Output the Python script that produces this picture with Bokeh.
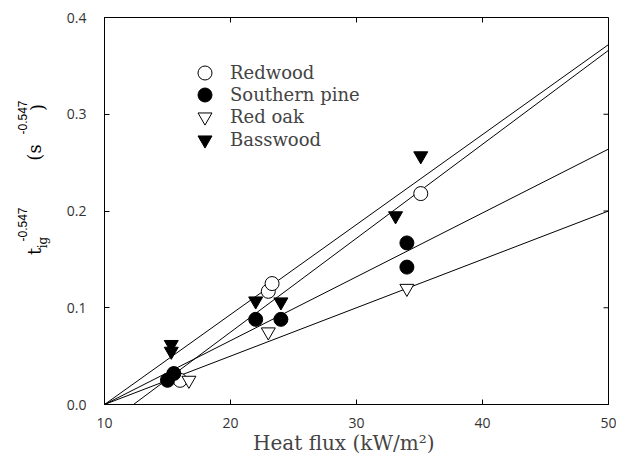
from math import pi
from bokeh.plotting import figure
from bokeh.layouts import row
from bokeh.models import (Range1d, Legend, LegendItem, NumeralTickFormatter, FixedTicker)
from bokeh.core.properties import value
from bokeh.embed import file_html
from bokeh.resources import INLINE

# ---- data ----
redwood_x = [16.0, 23.0, 23.3, 35.1]
redwood_y = [0.025, 0.117, 0.125, 0.218]
pine_x = [15.0, 15.5, 22.0, 24.0, 34.0, 34.0]
pine_y = [0.025, 0.032, 0.088, 0.088, 0.167, 0.142]
oak_x = [16.7, 23.0, 34.0]
oak_y = [0.025, 0.075, 0.120]
bass_x = [15.3, 15.3, 22.0, 24.0, 33.1, 35.1]
bass_y = [0.062, 0.055, 0.107, 0.106, 0.195, 0.257]

# fitted lines: y = slope * (x - x_intercept), drawn from x_intercept to 50
fit_names = ["Basswood", "Redwood", "Southern pine", "Red oak"]
fit_slope = [0.0093, 0.00971, 0.0066, 0.0050]
fit_x0 = [10.0, 12.3, 10.0, 10.0]
x_end = 50.0

x_ticks = [10, 20, 30, 40, 50]
y_ticks = [0.0, 0.1, 0.2, 0.3, 0.4]
legend_labels = ["Redwood", "Southern pine", "Red oak", "Basswood"]

X0, X1, Y0, Y1 = 10, 50, 0.0, 0.4
FW, FH = 504, 387          # frame size in px
LABW = 56                  # width of the strip holding the y-axis title
TOTAL_H = 17 + FH + 52

p = figure(frame_width=FW, frame_height=FH, x_range=Range1d(X0, X1), y_range=Range1d(Y0, Y1),
           output_backend="svg", toolbar_location=None,
           min_border_left=104 - LABW, min_border_right=8, min_border_top=17, min_border_bottom=40)
p.grid.visible = False
p.outline_line_color = "black"
p.outline_line_width = 1

for ax in (p.xaxis[0], p.yaxis[0]):
    ax.major_tick_in = 5
    ax.major_tick_out = 0
    ax.minor_tick_line_color = None
    ax.major_label_text_font = "Open Sans"
    ax.major_label_text_font_size = "14px"
    ax.major_label_text_color = "#333333"
    ax.axis_line_color = "black"
p.xaxis.ticker = FixedTicker(ticks=x_ticks)
p.yaxis.ticker = FixedTicker(ticks=y_ticks)
p.yaxis.formatter = NumeralTickFormatter(format="0.0")
p.xaxis.major_label_standoff = 13
p.yaxis.major_label_standoff = 18
p.xaxis.axis_label = "Heat flux (kW/m\u00b2)" + "\u00a0" * 4
p.xaxis.axis_label_text_font = "DejaVu Serif"
p.xaxis.axis_label_text_font_style = "normal"
p.xaxis.axis_label_text_font_size = "20px"
p.xaxis.axis_label_standoff = 0

# inward ticks on the top and right edges, from the tick arrays
tick_len_y = 5 * (Y1 - Y0) / FH
tick_len_x = 5 * (X1 - X0) / FW
p.segment(x0=x_ticks, y0=[Y1] * len(x_ticks), x1=x_ticks, y1=[Y1 - tick_len_y] * len(x_ticks),
          line_color="black", line_width=1)
p.segment(x0=[X1] * len(y_ticks), y0=y_ticks, x1=[X1 - tick_len_x] * len(y_ticks), y1=y_ticks,
          line_color="black", line_width=1)

# fit lines
for s, x0 in zip(fit_slope, fit_x0):
    p.line([x0, x_end], [0.0, s * (x_end - x0)], line_color="black", line_width=1)

r_red = p.scatter(redwood_x, redwood_y, marker="circle", size=14,
                  fill_color="white", line_color="black", line_width=1)
r_pine = p.scatter(pine_x, pine_y, marker="circle", size=14,
                   fill_color="black", line_color="black")
r_oak = p.scatter(oak_x, oak_y, marker="inverted_triangle", size=14,
                  fill_color="white", line_color="black", line_width=1)
r_bass = p.scatter(bass_x, bass_y, marker="inverted_triangle", size=14,
                   fill_color="black", line_color="black")

# one legend per row so that the marker can be large while rows stay close
leg_rows = [314.5, 292.5, 270.0, 247.5]
for lab, rend, ly in zip(legend_labels, [r_red, r_pine, r_oak, r_bass], leg_rows):
    lg = Legend(items=[LegendItem(label=lab, renderers=[rend])],
                location=(83, ly), orientation="vertical",
                glyph_width=35, glyph_height=35, label_height=35,
                padding=0, margin=0, spacing=0, label_standoff=8,
                label_text_font="DejaVu Serif", label_text_font_size="18px",
                border_line_color=None, background_fill_alpha=0)
    p.add_layout(lg, "center")

# ---- y-axis title strip (pixel coordinates, y downward) ----
q = figure(frame_width=LABW, frame_height=TOTAL_H, x_range=Range1d(0, LABW),
           y_range=Range1d(TOTAL_H, 0), output_backend="svg", toolbar_location=None,
           x_axis_type=None, y_axis_type=None, min_border=0)
q.grid.visible = False
q.outline_line_color = None

def piece(txt, x, y, font, size):
    q.text(x=[x], y=[y], text=[txt], angle=pi / 2, text_align="center",
           text_baseline="middle", text_font=value(font), text_font_size=size,
           text_color="black")

piece("t", 34, 234, "DejaVu Serif", "18px")
piece("ig", 42, 225, "DejaVu Serif", "12px")
piece("-0.547", 22, 207, "Liberation Sans", "12px")
piece("(s", 34, 135, "DejaVu Serif", "18px")
piece("-0.547", 22, 100, "Liberation Sans", "12px")
piece(")", 37, 90, "DejaVu Serif", "18px")

layout = row(q, p, spacing=0)
open("out.html", "w").write(file_html(layout, INLINE))
